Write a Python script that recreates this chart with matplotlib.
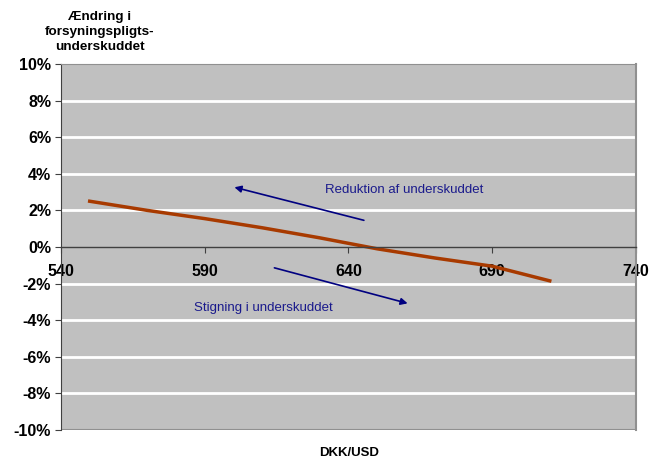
import matplotlib.pyplot as plt
from matplotlib.ticker import FuncFormatter

plt.rcParams['font.family'] = ['Liberation Sans', 'DejaVu Sans']

# DKK/USD kurs og ændring i underskuddet (%)
kurs = [550, 570, 590, 610, 630, 650, 670, 690, 710]
aendring = [2.5, 2.0, 1.55, 1.05, 0.5, -0.1, -0.6, -1.05, -1.85]

x_ticks = [540, 590, 640, 690, 740]
y_ticks = [-10, -8, -6, -4, -2, 0, 2, 4, 6, 8, 10]

fig = plt.figure(figsize=(6.62, 4.62), dpi=100)
ax = fig.add_axes([0.0921, 0.0693, 0.8686, 0.7922])
ax.set_facecolor('#C0C0C0')

ax.set_xlim(540, 740)
ax.set_ylim(-10, 10)
ax.set_yticks(y_ticks)
ax.set_xticks(x_ticks)
ax.yaxis.set_major_formatter(FuncFormatter(lambda v, p: f'{v:.0f}%'))

for y in y_ticks:
    if y not in (0, -10, 10):
        ax.axhline(y, color='white', lw=2, zorder=1)

# x-akse ved 0 %
ax.spines['bottom'].set_position(('data', 0))
ax.spines['bottom'].set_color('#404040')
ax.spines['bottom'].set_linewidth(1)
ax.axhline(-10, color='#909090', lw=1.5, zorder=1.5)
ax.spines['left'].set_color('#404040')
ax.spines['top'].set_color('#909090')
ax.spines['right'].set_color('#909090')
ax.spines['right'].set_linewidth(1.5)

ax.tick_params(axis='x', direction='out', length=4, color='#404040', pad=8)
ax.tick_params(axis='y', direction='out', length=4, color='#404040', pad=3)
for lab in ax.get_xticklabels() + ax.get_yticklabels():
    lab.set_fontweight('bold')
    lab.set_fontsize(11.5)

# kurven under aksetallene
ax.plot(kurs, aendring, color='#A83A00', lw=2.5, zorder=2.2)

# pile med forklaring
ax.annotate('', xy=(599.4, 3.3), xytext=(646.3, 1.42),
            arrowprops=dict(arrowstyle='-|>', color='#000080', lw=1.2,
                            mutation_scale=10), zorder=4)
ax.annotate('', xy=(661.5, -3.12), xytext=(613.3, -1.1),
            arrowprops=dict(arrowstyle='-|>', color='#000080', lw=1.2,
                            mutation_scale=10), zorder=4)
ax.text(659.4, 3.1, 'Reduktion af underskuddet', color='#1A1A8C',
        fontsize=9.5, ha='center', va='center')
ax.text(610.5, -3.35, 'Stigning i underskuddet', color='#1A1A8C',
        fontsize=9.5, ha='center', va='center')

fig.text(0.151, 0.931, 'Ændring i\nforsyningspligts-\nunderskuddet',
         ha='center', va='center', fontsize=9.7, fontweight='bold',
         linespacing=1.3)
fig.text(0.527, 0.02, 'DKK/USD', ha='center', va='center',
         fontsize=9.5, fontweight='bold')

fig.savefig('out.png', dpi=100)
